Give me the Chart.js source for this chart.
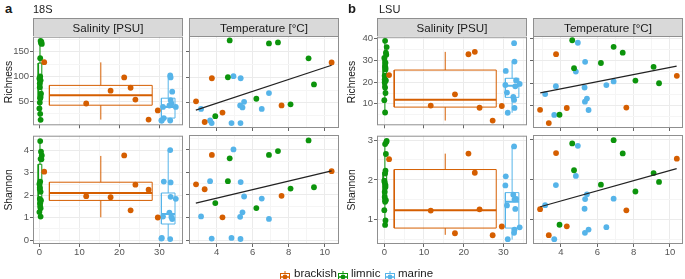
<!DOCTYPE html>
<html>
<head>
<meta charset="utf-8">
<script src="https://cdn.jsdelivr.net/npm/chart.js@4.4.1/dist/chart.umd.min.js"></script>
<style>
  body { margin: 0; width: 685px; height: 279px; position: relative; overflow: hidden; background: #fff;
         font-family: "Liberation Sans", Arial, sans-serif; color: #1a1a1a; }
  canvas { position: absolute; }
  .txt { position: absolute; white-space: nowrap; }
  .tag { font-size: 13px; font-weight: bold; top: 1px; }
  .sub { font-size: 11px; top: 3px; }
  .strip { position: absolute; top: 18px; height: 18px; background: #d9d9d9; border: 1px solid #8f8f8f;
           border-bottom: none; box-sizing: border-box; font-size: 11.6px; line-height: 17px; text-align: center; }
  .ytitle { position: absolute; font-size: 10.3px; white-space: nowrap; transform: translate(-50%, -50%) rotate(-90deg); }
  .key { position: absolute; top: 269px; }
  .ktxt { position: absolute; top: 267px; font-size: 11.5px; }
</style>
</head>
<body>
<script>
// ---- samples (x = jittered salinity as drawn, temperature; null = no temperature) ----
const brackishSal  = [1.2, 11.7, 17.8, 21.2, 22.8, 24.0, 27.3, 29.6];
const brackishTemp = [10.38, 7.6, null, 3.73, null, 2.85, 3.33, 4.32];
const limnicSal  = [0.3, 0.6, 0.4, 0.2, 0.1, 0.2, 0.3, 0.1, 0.2, 0.5, 0.0, 0.3, 0.1, 0.4, 0.2, 0.0, 0.3];
const limnicTemp = [4.72, 6.9, 7.4, 9.1, 9.4, 4.62, 6.2, 8.1, 3.92, null, null, null, null, null, null, null, null];
const marineSal  = [32.7, 32.8, 33.2, 32.8, 33.0, 32.5, 34.1, 30.9, 31.1, 30.5, 30.6, 32.7];
const marineTemp = [4.93, 5.33, 6.9, 5.52, 5.3, 5.43, 6.5, 3.13, 3.63, 3.72, 4.82, 5.32];

// ---- 18S ----
const brackishRich18S = [129, 45, 71, 98, 77, 53, 12.5, 31];
const brackishShan18S = [3.05, 1.96, 1.91, 3.77, 1.33, 2.47, 2.25, 1.01];
const limnicRich18S = [172, 166, 168, 137, 86, 100, 58, 47, 24, 170, 96, 92, 78, 65, 55, 35, 12];
const limnicShan18S = [3.62, 3.77, 3.94, 4.41, 2.34, 2.61, 1.42, 2.28, 1.64, 3.6, 2.5, 2.15, 1.84, 1.77, 1.5, 1.25, 1.05];
const marineRich18S = [102, 98, 69, 52, 45, 41, 38, 38, 15.5, 10.5, 10.5, 10.5];
const marineShan18S = [4.01, 2.57, 0.94, 1.93, 1.03, 1.23, 1.84, 1.05, 2.61, 0.07, 0.1, 0.05];

// ---- LSU ----
const brackishRichLSU = [23.3, 9.2, 14.4, 32.9, 34, 8.2, 2.3, 9];
const brackishShanLSU = [2.52, 1.23, 0.66, 2.66, 2.18, 1.26, 0.61, 0.83];
const limnicRichLSU = [26.7, 36.2, 33.6, 27.3, 20, 39.1, 29, 21.2, 6, 32.7, 31.2, 25.9, 23, 20.8, 17.5, 11.7, 15];
const limnicShanLSU = [2.23, 2.98, 2.65, 2.16, 1.94, 2.9, 1.87, 1.7, 0.87, 2.95, 1.98, 1.82, 1.57, 1.49, 1.45, 1.24, 0.98];
const marineRichLSU = [38, 29.5, 20.8, 8.1, 18.1, 13.2, 19.2, 15.2, 5.9, 18.7, 25.2, 11.8];
const marineShanLSU = [2.84, 1.51, 1.52, 0.75, 1.27, 1.63, 0.81, 1.36, 0.51, 1.86, 2.09, 0.67];

// ---- boxplots: [lower whisker, q1, median, q3, upper whisker]; box spans in salinity units ----
const limnicBoxX = [-0.3, 0.6], brackishBoxX = [2.5, 28.2], marineBoxX = [30.5, 33.9];
const boxRich18S = { limnic: [12, 54, 80, 127, 172], brackish: [12.4, 41.6, 61.7, 81.8, 128.5], marine: [10.5, 15.5, 38, 55.8, 102] };
const boxShan18S = { limnic: [1.04, 1.55, 2.1, 3.38, 4.41], brackish: [1.02, 1.77, 2.1, 2.58, 3.75], marine: [0.05, 0.72, 1.16, 2.1, 4.01] };
const boxRichLSU = { limnic: [6, 17.5, 25.5, 31.5, 39], brackish: [2.3, 8.5, 11.9, 25.6, 34], marine: [5.9, 13, 18.3, 21.8, 29.6] };
const boxShanLSU = { limnic: [0.87, 1.45, 1.9, 2.2, 2.99], brackish: [0.62, 0.79, 1.24, 2.26, 2.66], marine: [0.5, 0.79, 1.45, 1.68, 2.85] };

// ---- linear fits vs temperature (end points) ----
const fitRich18S = [[2.84, 35.7], [10.38, 123.4]];
const fitShan18S = [[2.84, 1.64], [10.38, 3.06]];
const fitRichLSU = [[2.86, 15.75], [10.37, 27.6]];
const fitShanLSU = [[2.86, 1.32], [10.37, 2.27]];

// ---- axis breaks ----
const salinityTicks = [0, 10, 20, 30];
const tempTicks = [4, 6, 8, 10];
const richTicks18S = [50, 100, 150];
const shanTicks18S = [0, 1, 2, 3, 4];
const richTicksLSU = [10, 20, 30, 40];
const shanTicksLSU = [1, 2, 3];

const COL = { brackish: '#D55E00', limnic: '#0C940C', marine: '#56B4E9' };

Chart.defaults.font.family = '"Liberation Sans", Arial, sans-serif';
Chart.defaults.animation = false;

const panelBorder = {
  id: 'panelBorder',
  afterDraw(chart) {
    const a = chart.chartArea, ctx = chart.ctx;
    ctx.save();
    ctx.strokeStyle = '#8f8f8f';
    ctx.lineWidth = 1;
    ctx.strokeRect(a.left + 0.5, a.top + 0.5, a.right - a.left - 1, a.bottom - a.top - 1);
    ctx.restore();
  }
};

// majors plus ggplot-style minor breaks half way between
function withMinors(majors, min, max) {
  const half = (majors[1] - majors[0]) / 2, out = [];
  for (let v = majors[0] - half; v <= max + 1e-9; v += half) {
    const r = Math.round(v * 1e6) / 1e6;
    if (r >= min) out.push(r);
  }
  return out;
}

function axis(min, max, majors, showLabels, size, isX) {
  const all = withMinors(majors, min, max);
  const major = v => majors.some(m => Math.abs(m - v) < 1e-6);
  return {
    type: 'linear', min: min, max: max,
    afterBuildTicks: s => { s.ticks = all.map(v => ({ value: v })); },
    afterFit: s => { if (isX) s.height = size; else s.width = size; },
    ticks: {
      display: showLabels, autoSkip: false, maxRotation: 0, padding: isX ? 0 : 1,
      font: { size: 9.5 }, color: '#555',
      callback: v => major(v) ? String(v) : ''
    },
    grid: {
      color: c => (c.tick && major(c.tick.value)) ? '#EBEBEB' : '#F5F5F5',
      tickColor: c => (c.tick && major(c.tick.value)) ? '#666' : 'rgba(0,0,0,0)',
      tickLength: 3, drawTicks: true, lineWidth: 1
    },
    border: { display: false }
  };
}

function pts(xs, ys, col) {
  const d = [];
  xs.forEach((x, i) => { if (x !== null && ys[i] !== null) d.push({ x: x, y: ys[i] }); });
  return { data: d, backgroundColor: col, borderColor: col, borderWidth: 0, pointRadius: 2.9, order: 0 };
}

function seg(points, col, w, order) {
  return { data: points.map(p => ({ x: p[0], y: p[1] })), showLine: true, borderColor: col, borderWidth: w,
           pointRadius: 0, fill: false, order: order };
}

function box(bx, st, col) {
  const xl = bx[0], xr = bx[1], xc = (xl + xr) / 2;
  const [lo, q1, md, q3, hi] = st;
  return [
    seg([[xl, q1], [xr, q1], [xr, q3], [xl, q3], [xl, q1]], col, 1, 1),
    seg([[xl, md], [xr, md]], col, 2, 1),
    seg([[xc, q3], [xc, hi]], col, 1, 1),
    seg([[xc, lo], [xc, q1]], col, 1, 1)
  ];
}

function panel(L, R, T, B, yw, xh, xs, ys, datasets) {
  const c = document.createElement('canvas');
  const w = yw + (R - L) + 6, h = 6 + (B - T) + xh;
  c.width = w; c.height = h;
  c.style.left = (L - yw) + 'px'; c.style.top = (T - 6) + 'px';
  document.body.appendChild(c);
  new Chart(c.getContext('2d'), {
    type: 'scatter',
    data: { datasets: datasets },
    options: {
      responsive: false, devicePixelRatio: 1,
      layout: { padding: { top: 6, right: 6, left: 0, bottom: 0 } },
      plugins: { legend: { display: false }, tooltip: { enabled: false } },
      scales: {
        x: axis(xs[0], xs[1], xs[2], xh > 8, xh, true),
        y: axis(ys[0], ys[1], ys[2], yw > 10, yw, false)
      }
    },
    plugins: [panelBorder]
  });
}

function salinitySets(vals, boxes) {
  return [
    pts(brackishSal, vals.brackish, COL.brackish),
    pts(limnicSal, vals.limnic, COL.limnic),
    pts(marineSal, vals.marine, COL.marine),
    ...box(limnicBoxX, boxes.limnic, COL.limnic),
    ...box(brackishBoxX, boxes.brackish, COL.brackish),
    ...box(marineBoxX, boxes.marine, COL.marine)
  ];
}

function tempSets(vals, fit) {
  return [
    pts(brackishTemp, vals.brackish, COL.brackish),
    pts(limnicTemp, vals.limnic, COL.limnic),
    pts(marineTemp, vals.marine, COL.marine),
    seg(fit, '#222', 1.2, -1)
  ];
}

const rich18S = { brackish: brackishRich18S, limnic: limnicRich18S, marine: marineRich18S };
const shan18S = { brackish: brackishShan18S, limnic: limnicShan18S, marine: marineShan18S };
const richLSU = { brackish: brackishRichLSU, limnic: limnicRichLSU, marine: marineRichLSU };
const shanLSU = { brackish: brackishShanLSU, limnic: limnicShanLSU, marine: marineShanLSU };

// a: 18S
panel(33, 183, 36, 128, 30, 4, [-1.6, 35.9, salinityTicks], [0.8, 180.6, richTicks18S], salinitySets(rich18S, boxRich18S));
panel(189, 339, 36, 128, 6, 4, [2.46, 10.79, tempTicks], [0.8, 180.6, richTicks18S], tempSets(rich18S, fitRich18S));
panel(33, 183, 135, 244, 30, 16, [-1.6, 35.9, salinityTicks], [-0.17, 4.65, shanTicks18S], salinitySets(shan18S, boxShan18S));
panel(189, 339, 135, 244, 6, 16, [2.46, 10.79, tempTicks], [-0.17, 4.65, shanTicks18S], tempSets(shan18S, fitShan18S));
// b: LSU
panel(377, 527, 36, 128, 30, 4, [-1.84, 35.95, salinityTicks], [0.1, 41.0, richTicksLSU], salinitySets(richLSU, boxRichLSU));
panel(533, 683, 36, 128, 6, 4, [2.46, 10.72, tempTicks], [0.1, 41.0, richTicksLSU], tempSets(richLSU, fitRichLSU));
panel(377, 527, 135, 244, 30, 16, [-1.84, 35.95, salinityTicks], [0.39, 3.11, shanTicksLSU], salinitySets(shanLSU, boxShanLSU));
panel(533, 683, 135, 244, 6, 16, [2.46, 10.72, tempTicks], [0.39, 3.11, shanTicksLSU], tempSets(shanLSU, fitShanLSU));

function keySvg(col) {
  return '<svg width="10" height="12" xmlns="http://www.w3.org/2000/svg">' +
    '<line x1="5" y1="0" x2="5" y2="12" stroke="' + col + '"/>' +
    '<rect x="0.5" y="2.5" width="9" height="7" fill="#fff" stroke="' + col + '"/>' +
    '<line x1="0.5" y1="6" x2="9.5" y2="6" stroke="' + col + '" stroke-width="1.5"/>' +
    '<circle cx="5" cy="6" r="2.4" fill="' + col + '"/></svg>';
}

const html = [
  '<div class="txt tag" style="left:5px">a</div>',
  '<div class="txt sub" style="left:33px">18S</div>',
  '<div class="txt tag" style="left:348px">b</div>',
  '<div class="txt sub" style="left:379px">LSU</div>',
  '<div class="strip" style="left:33px;width:150px">Salinity [PSU]</div>',
  '<div class="strip" style="left:189px;width:150px">Temperature [°C]</div>',
  '<div class="strip" style="left:377px;width:150px">Salinity [PSU]</div>',
  '<div class="strip" style="left:533px;width:150px">Temperature [°C]</div>',
  '<div class="ytitle" style="left:8px;top:82px">Richness</div>',
  '<div class="ytitle" style="left:8px;top:190px">Shannon</div>',
  '<div class="ytitle" style="left:351px;top:82px">Richness</div>',
  '<div class="ytitle" style="left:351px;top:190px">Shannon</div>',
  '<div class="key" style="left:280px">' + keySvg(COL.brackish) + '</div>',
  '<div class="ktxt" style="left:294px">brackish</div>',
  '<div class="key" style="left:338px">' + keySvg(COL.limnic) + '</div>',
  '<div class="ktxt" style="left:351px">limnic</div>',
  '<div class="key" style="left:385px">' + keySvg(COL.marine) + '</div>',
  '<div class="ktxt" style="left:398px">marine</div>'
];
document.body.insertAdjacentHTML('beforeend', html.join(''));
</script>
</body>
</html>
